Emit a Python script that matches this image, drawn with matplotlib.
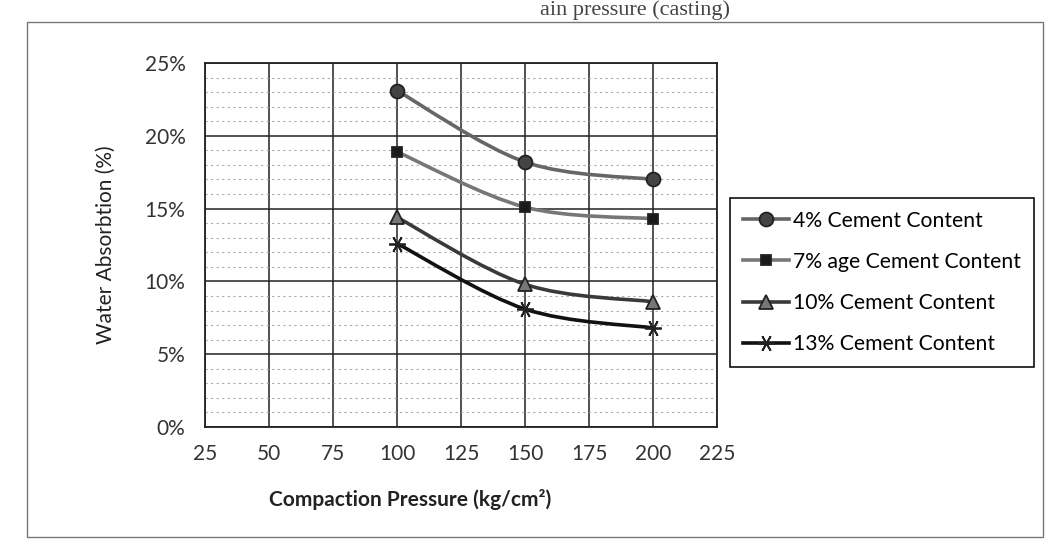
import numpy as np
import matplotlib.pyplot as plt
from matplotlib.path import Path
from matplotlib.patches import PathPatch, Rectangle
from matplotlib.lines import Line2D
from matplotlib.ticker import MultipleLocator, PercentFormatter

plt.rcParams['font.family'] = ['Lato', 'DejaVu Sans']
plt.rcParams['font.size'] = 15

pressure = [100, 150, 200]
absorption_4 = [23.1, 18.2, 17.0]
absorption_7 = [18.9, 15.1, 14.3]
absorption_10 = [14.4, 9.8, 8.6]
absorption_13 = [12.6, 8.1, 6.8]
labels = ['4% Cement Content', '7% age Cement Content',
          '10% Cement Content', '13% Cement Content']
x_ticks = [25, 50, 75, 100, 125, 150, 175, 200, 225]
y_ticks = [0, 5, 10, 15, 20, 25]


def smooth_path(xs, ys):
    # excel style smoothed line: catmull-rom turned into cubic beziers
    pts = np.column_stack([xs, ys]).astype(float)
    verts = [pts[0]]
    codes = [Path.MOVETO]
    for i in range(len(pts) - 1):
        p0 = pts[i - 1] if i > 0 else pts[i]
        p1 = pts[i]
        p2 = pts[i + 1]
        p3 = pts[i + 2] if i + 2 < len(pts) else pts[i + 1]
        verts += [p1 + (p2 - p0) / 6, p2 - (p3 - p1) / 6, p2]
        codes += [Path.CURVE4] * 3
    return Path(verts, codes)


fig = plt.figure(figsize=(10.56, 5.48), dpi=100, facecolor='white')
ax = fig.add_axes([205 / 1056, 1 - 427 / 548, 512 / 1056, 364 / 548])

# chart area border and the title fragment left at the top of the scan
fig.patches.append(Rectangle((27 / 1056, 1 - 537 / 548), 1016 / 1056, 515 / 548,
                             transform=fig.transFigure, fill=False,
                             edgecolor='#777777', lw=1))
fig.text(730 / 1056, 1 - 15 / 548, 'ain pressure (casting)', ha='right',
         va='baseline', family=['Liberation Serif', 'DejaVu Serif'],
         size=16, color='#444444')

series = [
    (absorption_4, '#666666', 'o', '#444444', 10),
    (absorption_7, '#777777', 's', '#1a1a1a', 7.5),
    (absorption_10, '#3a3a3a', '^', '#777777', 10),
    (absorption_13, '#111111', (6, 2, 90), '#111111', 12),
]
handles = []
for (vals, lc, mk, mc, ms), lab in zip(series, labels):
    ax.add_patch(PathPatch(smooth_path(pressure, vals), fill=False,
                           edgecolor=lc, lw=2.6, zorder=3))
    ax.plot(pressure, vals, ls='none', marker=mk, ms=ms, color=mc,
            mec='#222222', mew=1.3, zorder=4, clip_on=False)
    handles.append(Line2D([], [], color=lc, lw=2.6, marker=mk, ms=ms,
                          mfc=mc, mec='#222222', mew=1.3))

ax.set_xlim(25, 225)
ax.set_ylim(0, 25)
ax.set_xticks(x_ticks)
ax.set_yticks(y_ticks)
ax.yaxis.set_major_formatter(PercentFormatter(decimals=0))
ax.yaxis.set_minor_locator(MultipleLocator(1))
ax.grid(which='major', color='#222222', lw=1.1)
ax.grid(which='minor', axis='y', color='#aaaaaa', lw=0.8, linestyle=(0, (2, 3)))
ax.set_axisbelow(True)
ax.tick_params(which='both', length=0, colors='#333333', labelsize=15)
ax.tick_params(axis='x', pad=12)
ax.tick_params(axis='y', pad=14)
for s in ax.spines.values():
    s.set_color('#222222')
    s.set_linewidth(1.3)

ax.set_ylabel('Water Absorbtion (%)', color='#222222', fontsize=15)
ax.set_xlabel('Compaction Pressure (kg/cm²)', color='#222222', fontsize=15,
              fontweight='bold')
ax.xaxis.set_label_coords(0.4, -0.17)
ax.yaxis.set_label_coords(-0.175, 0.5)

leg = fig.legend(handles, labels, loc='upper left',
                 bbox_to_anchor=(730 / 1056, 1 - 198 / 548), borderaxespad=0,
                 fancybox=False, edgecolor='#111111', framealpha=1,
                 handlelength=2.2, handletextpad=0.2, labelspacing=1.0,
                 borderpad=0.6, fontsize=15.2)
leg.get_frame().set_linewidth(1.2)

fig.savefig('out.png', dpi=100, facecolor='white')
